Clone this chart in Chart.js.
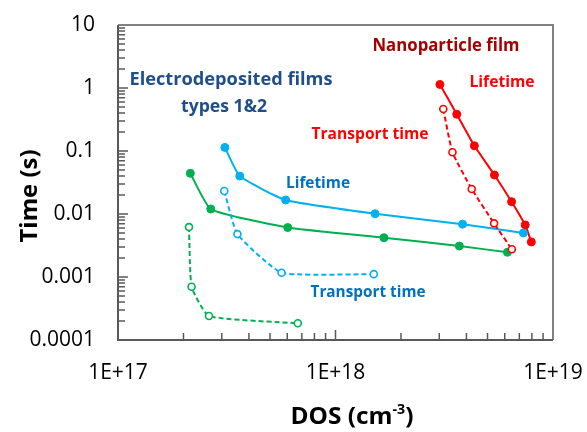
<!DOCTYPE html>
<html>
<head>
<meta charset="utf-8">
<script src="https://cdn.jsdelivr.net/npm/chart.js@4.4.1/dist/chart.umd.min.js"></script>
<style>
  html, body { margin: 0; padding: 0; background: #fff; }
  #wrap { width: 587px; height: 432px; }
</style>
</head>
<body>
<div id="wrap"><canvas id="dosChart" width="587" height="432"></canvas></div>
<script>
// axis ticks
const xTicks = [1e17, 1e18, 1e19];
const xTickLabels = ['1E+17', '1E+18', '1E+19'];
const yTicks = [0.0001, 0.001, 0.01, 0.1, 1, 10];
const yTickLabels = ['0.0001', '0.001', '0.01', '0.1', '1', '10'];

// electrodeposited films, type 1 (blue)
const blueLifeX = [3.10e17, 3.63e17, 5.90e17, 1.52e18, 3.84e18, 7.31e18];
const blueLifeY = [0.114, 0.040, 0.0167, 0.0101, 0.0069, 0.0050];
const blueTransX = [3.08e17, 3.54e17, 5.65e17, 1.50e18];
const blueTransY = [0.0232, 0.0048, 0.00117, 0.00111];

// electrodeposited films, type 2 (green)
const greenLifeX = [2.15e17, 2.67e17, 6.03e17, 1.67e18, 3.71e18, 6.17e18];
const greenLifeY = [0.0443, 0.0120, 0.0061, 0.0042, 0.0031, 0.00247];
const greenTransX = [2.12e17, 2.18e17, 2.62e17, 6.71e17];
const greenTransY = [0.0062, 0.00070, 0.00024, 0.000184];

// nanoparticle film (red)
const redLifeX = [3.02e18, 3.61e18, 4.35e18, 5.38e18, 6.45e18, 7.45e18, 7.95e18];
const redLifeY = [1.14, 0.383, 0.121, 0.0416, 0.0157, 0.0067, 0.0036];
const redTransX = [3.13e18, 3.45e18, 4.23e18, 5.36e18, 6.47e18];
const redTransY = [0.464, 0.0953, 0.0249, 0.0071, 0.00275];

const BLUE = '#00b0f0';
const GREEN = '#00b050';
const RED = '#ff0000';

function series(xs, ys, color, dashed) {
  return {
    data: xs.map((x, i) => ({ x: x, y: ys[i] })),
    showLine: true,
    borderColor: color,
    borderWidth: 2,
    borderDash: dashed ? [5, 3] : [],
    tension: 0.15,
    pointRadius: dashed ? 3.5 : 4,
    pointBackgroundColor: dashed ? '#fff' : color,
    pointBorderColor: color,
    pointBorderWidth: dashed ? 1.6 : 1
  };
}

// text drawn at a given centre and squeezed/stretched to a given width
function drawFit(ctx, text, cx, cy, size, color, w) {
  ctx.save();
  ctx.font = 'bold ' + size + 'px "Open Sans"';
  const nat = ctx.measureText(text).width;
  ctx.translate(cx, cy);
  ctx.scale(w / nat, 1);
  ctx.fillStyle = color;
  ctx.textAlign = 'center';
  ctx.textBaseline = 'middle';
  ctx.fillText(text, 0, 0);
  ctx.restore();
}

const framePlugin = {
  id: 'frame',
  beforeDatasetsDraw(chart) {
    const ctx = chart.ctx;
    const a = chart.chartArea;
    const xs = chart.scales.x;
    const ys = chart.scales.y;
    ctx.save();
    // top and right frame
    ctx.strokeStyle = '#808080';
    ctx.lineWidth = 2;
    ctx.beginPath();
    ctx.moveTo(a.left, a.top);
    ctx.lineTo(a.right, a.top);
    ctx.lineTo(a.right, a.bottom);
    ctx.stroke();
    // inner tick marks
    ctx.strokeStyle = '#595959';
    ctx.lineWidth = 1.5;
    ctx.beginPath();
    for (let d = 17; d <= 18; d++) {
      for (let m = 1; m <= 9; m++) {
        const px = xs.getPixelForValue(m * Math.pow(10, d));
        ctx.moveTo(px, a.bottom);
        ctx.lineTo(px, a.bottom - (m === 1 ? 10 : 7));
      }
    }
    for (let d = -4; d <= 0; d++) {
      for (let m = 1; m <= 9; m++) {
        const py = ys.getPixelForValue(m * Math.pow(10, d));
        ctx.moveTo(a.left, py);
        ctx.lineTo(a.left + (m === 1 ? 10 : 7), py);
      }
    }
    ctx.stroke();
    // left and bottom axis lines
    ctx.lineWidth = 2;
    ctx.beginPath();
    ctx.moveTo(a.left, a.top);
    ctx.lineTo(a.left, a.bottom);
    ctx.lineTo(a.right, a.bottom);
    ctx.stroke();
    ctx.restore();
  },
  afterDraw(chart) {
    const ctx = chart.ctx;
    drawFit(ctx, 'Electrodeposited films', 231, 80, 17, '#1f4e8c', 203);
    drawFit(ctx, 'types 1&2', 224, 107, 17, '#1f4e8c', 86);
    drawFit(ctx, 'Nanoparticle film', 446, 46, 18, '#a50000', 147);
    drawFit(ctx, 'Lifetime', 502, 82, 16, RED, 65);
    drawFit(ctx, 'Transport time', 370, 134, 16, RED, 117);
    drawFit(ctx, 'Lifetime', 318, 183, 16, '#0070c0', 64);
    drawFit(ctx, 'Transport time', 368, 292, 16, '#0070c0', 115);

    // y axis title
    ctx.save();
    ctx.translate(30, 196);
    ctx.rotate(-Math.PI / 2);
    drawFit(ctx, 'Time (s)', 0, 0, 24, '#000', 93);
    ctx.restore();

    // x axis title with superscript
    ctx.save();
    ctx.fillStyle = '#000';
    ctx.textBaseline = 'alphabetic';
    ctx.textAlign = 'left';
    const big = 'bold 24px "Open Sans"';
    const small = 'bold 14px "Open Sans"';
    ctx.font = big;
    const w1 = ctx.measureText('DOS (cm').width;
    const w3 = ctx.measureText(')').width;
    ctx.font = small;
    const w2 = ctx.measureText('-3').width;
    const total = w1 + w2 + w3;
    const target = 123;
    ctx.translate(352 - target / 2, 424);
    ctx.scale(target / total, 1);
    ctx.font = big;
    ctx.fillText('DOS (cm', 0, 0);
    ctx.font = small;
    ctx.fillText('-3', w1, -10);
    ctx.font = big;
    ctx.fillText(')', w1 + w2, 0);
    ctx.restore();
  }
};

const tickFont = { family: 'Open Sans', size: 21 };

new Chart(document.getElementById('dosChart'), {
  type: 'scatter',
  data: {
    datasets: [
      series(blueTransX, blueTransY, BLUE, true),
      series(greenTransX, greenTransY, GREEN, true),
      series(redTransX, redTransY, RED, true),
      series(blueLifeX, blueLifeY, BLUE, false),
      series(greenLifeX, greenLifeY, GREEN, false),
      series(redLifeX, redLifeY, RED, false)
    ]
  },
  options: {
    responsive: false,
    animation: false,
    // plot box 118..553 x 25..340
    layout: { padding: { left: 0, top: 25, right: 34, bottom: 0 } },
    plugins: {
      legend: { display: false },
      tooltip: { enabled: false }
    },
    scales: {
      x: {
        type: 'logarithmic',
        min: 1e17,
        max: 1e19,
        grid: { display: false, drawTicks: false },
        border: { display: false },
        afterBuildTicks: (s) => { s.ticks = xTicks.map(v => ({ value: v })); },
        // end labels overhang into the padding, do not let them shrink the plot
        afterFit: (s) => { s.height = 92; s.paddingLeft = 0; s.paddingRight = 0; },
        ticks: {
          autoSkip: false,
          maxRotation: 0,
          padding: 20,
          color: '#000',
          font: tickFont,
          callback: (v, i) => xTickLabels[i]
        }
      },
      y: {
        type: 'logarithmic',
        min: 0.0001,
        max: 10,
        grid: { display: false, drawTicks: false },
        border: { display: false },
        afterBuildTicks: (s) => { s.ticks = yTicks.map(v => ({ value: v })); },
        afterFit: (s) => { s.width = 118; s.paddingTop = 0; s.paddingBottom = 0; },
        ticks: {
          autoSkip: false,
          padding: 23,
          color: '#000',
          font: tickFont,
          callback: (v, i) => yTickLabels[i]
        }
      }
    }
  },
  plugins: [framePlugin]
});
</script>
</body>
</html>
